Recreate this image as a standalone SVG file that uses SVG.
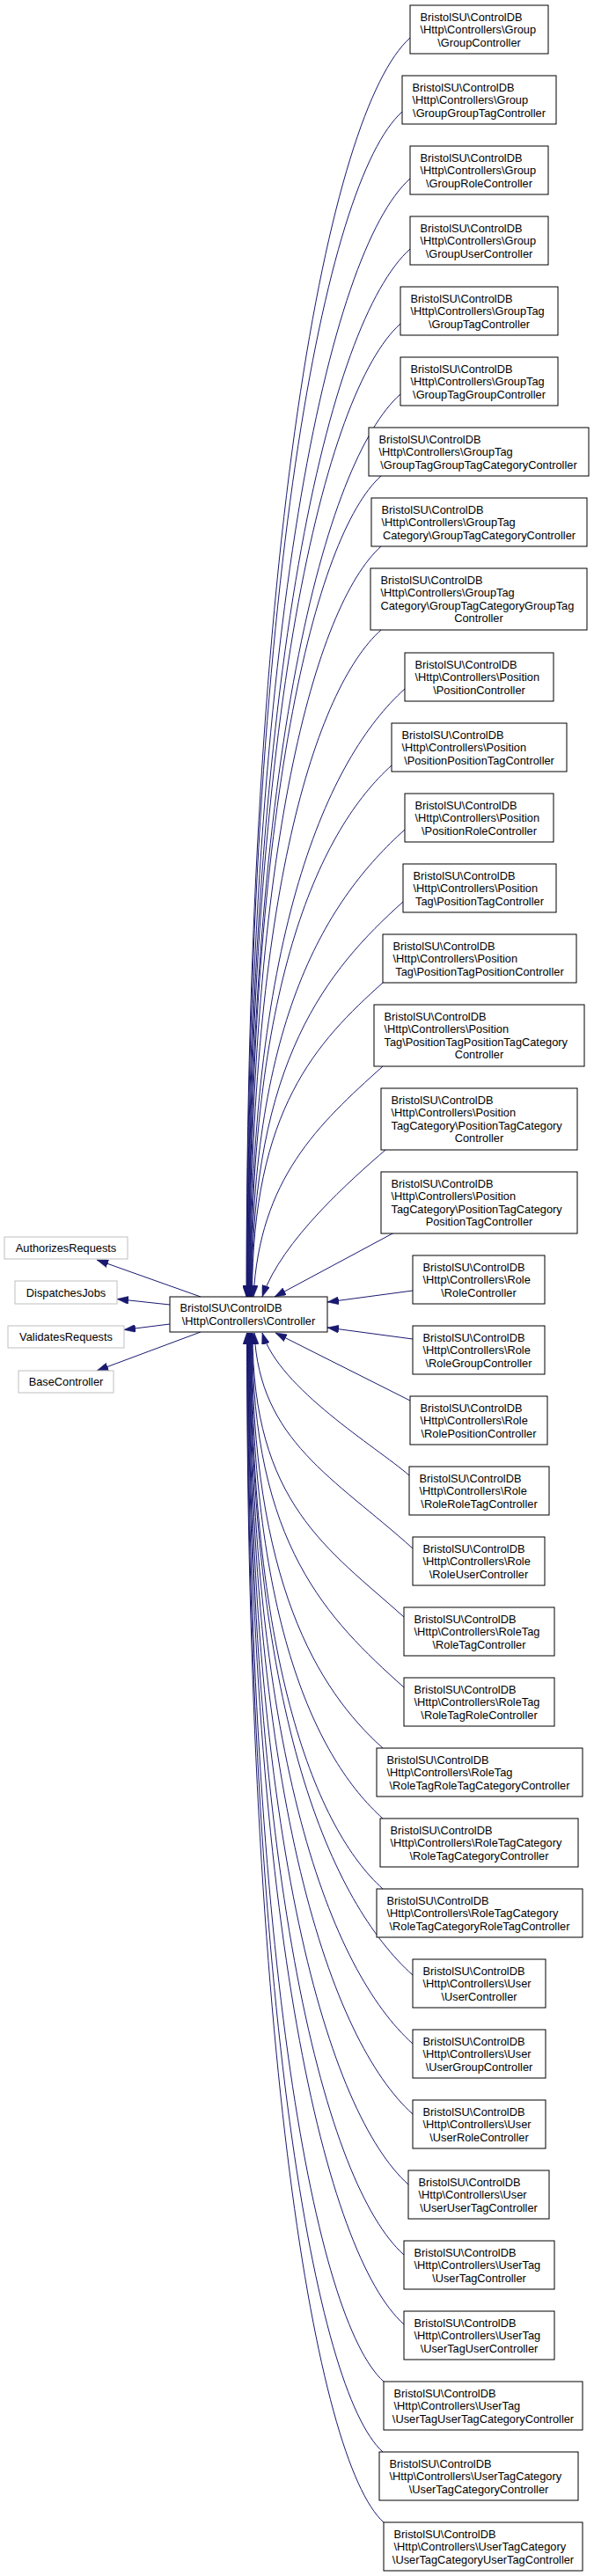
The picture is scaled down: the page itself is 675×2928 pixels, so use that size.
<svg xmlns="http://www.w3.org/2000/svg" width="675" height="2928" viewBox="0 0 675 2928">
<style>
.n rect{fill:#fff;stroke:#000;stroke-width:1}
.g rect{fill:#fff;stroke:#bfbfbf;stroke-width:1}
text{font-family:"Liberation Sans",Arial,sans-serif;font-size:12.8px;fill:#000}
.c{text-anchor:middle}
.e path{fill:none;stroke:#191970;stroke-width:1;marker-end:url(#arr)}
</style>
<defs>
<marker id="arr" markerUnits="userSpaceOnUse" viewBox="0 0 13 9" markerWidth="13" markerHeight="9" refX="13" refY="4.5" orient="auto">
<path d="M0,0 L13,4.5 L0,9 Z" fill="#191970" stroke="#191970" stroke-width="0.5"/>
</marker>
</defs>
<rect width="675" height="2928" fill="#fff"/>
<g id="edges" class="e">
<path d="M228,1474 L110,1432"/>
<path d="M193,1483 L133,1476.5"/>
<path d="M193,1505 L141,1511.5"/>
<path d="M228,1514 L110,1558"/>
<path d="M466,43 C373,126.7 280,615.4 280,1474"/>
<path d="M457,127 C368.8,206.4 280.5,665.8 280.5,1474"/>
<path d="M466,203 C373.5,286.3 281,711.4 281,1474"/>
<path d="M466,283 C373.8,366 281.5,759.4 281.5,1474"/>
<path d="M455,368 C368.5,445.9 282,810.4 282,1474"/>
<path d="M455,448 C368.8,525.6 282.5,858.4 282.5,1474"/>
<path d="M433,541 C358,608.5 283,914.2 283,1474"/>
<path d="M433,621 C358.3,688.3 283.5,962.2 283.5,1474"/>
<path d="M433,716 C358.5,783 284,1019.2 284,1474"/>
<path d="M460,783 C372.3,862 284.5,1059.4 284.5,1474"/>
<path d="M445,870 C365,942 285,1111.6 285,1474"/>
<path d="M460,943 C372.8,1021.5 285.5,1155.4 285.5,1474"/>
<path d="M458,1025 C372,1102.4 286,1204.6 286,1474"/>
<path d="M435,1117 C360.8,1183.8 286.5,1259.8 286.5,1474"/>
<path d="M435,1212 C361.5,1278 295,1340 288,1474"/>
<path d="M438,1307 C400,1340 320,1410 298,1474"/>
<path d="M448,1401 L312,1474"/>
<path d="M469,1467 L372,1480"/>
<path d="M469,1522 L372,1509"/>
<path d="M466,1592 L313,1515"/>
<path d="M465,1677 C427,1644 318,1579 298,1515"/>
<path d="M469,1760 C379.5,1679.5 295,1637.5 289,1515"/>
<path d="M459,1838 C373,1760.6 287,1708.8 287,1515"/>
<path d="M459,1918 C372.8,1840.4 286.5,1756.8 286.5,1515"/>
<path d="M435,1987 C360.5,1920 286,1798.2 286,1515"/>
<path d="M435,2067 C360.3,2000 285.5,1846.2 285.5,1515"/>
<path d="M435,2147 C360,2079.5 285,1894.2 285,1515"/>
<path d="M469,2245 C376.8,2162 284.5,1953 284.5,1515"/>
<path d="M469,2323 C376.5,2239.8 284,1999.8 284,1515"/>
<path d="M469,2403 C376.3,2319.5 283.5,2047.8 283.5,1515"/>
<path d="M464,2483 C373.5,2401.6 283,2095.8 283,1515"/>
<path d="M459,2563 C370.8,2483.6 282.5,2143.8 282.5,1515"/>
<path d="M459,2642 C370.5,2562.4 282,2191.2 282,1515"/>
<path d="M436,2707 C358.8,2637.5 281.5,2230.2 281.5,1515"/>
<path d="M435,2787 C358,2717.7 281,2278.2 281,1515"/>
<path d="M436,2867 C358.3,2797 280.5,2326.2 280.5,1515"/>
</g>
<g id="controller" class="n"><rect x="193" y="1474" width="179" height="40"/><text x="204.5" y="1491.25">BristolSU\ControlDB</text><text class="c" x="282.5" y="1505.75">\Http\Controllers\Controller</text></g>
<g id="authorizes" class="g"><rect x="5" y="1406" width="140" height="25"/><text class="c" x="75" y="1423">AuthorizesRequests</text></g>
<g id="dispatches" class="g"><rect x="17" y="1456" width="116" height="26"/><text class="c" x="75" y="1473.5">DispatchesJobs</text></g>
<g id="validates" class="g"><rect x="9" y="1507" width="132" height="25"/><text class="c" x="75" y="1524">ValidatesRequests</text></g>
<g id="basecontroller" class="g"><rect x="21" y="1558" width="108" height="25"/><text class="c" x="75" y="1575">BaseController</text></g>
<g id="n1" class="n"><rect x="466" y="6" width="157" height="55"/><text x="477.5" y="23.5">BristolSU\ControlDB</text><text x="477.5" y="38">\Http\Controllers\Group</text><text class="c" x="544.5" y="52.5">\GroupController</text></g>
<g id="n2" class="n"><rect x="457" y="86" width="175" height="55"/><text x="468.5" y="103.5">BristolSU\ControlDB</text><text x="468.5" y="118">\Http\Controllers\Group</text><text class="c" x="544.5" y="132.5">\GroupGroupTagController</text></g>
<g id="n3" class="n"><rect x="466" y="166" width="157" height="55"/><text x="477.5" y="183.5">BristolSU\ControlDB</text><text x="477.5" y="198">\Http\Controllers\Group</text><text class="c" x="544.5" y="212.5">\GroupRoleController</text></g>
<g id="n4" class="n"><rect x="466" y="246" width="157" height="55"/><text x="477.5" y="263.5">BristolSU\ControlDB</text><text x="477.5" y="278">\Http\Controllers\Group</text><text class="c" x="544.5" y="292.5">\GroupUserController</text></g>
<g id="n5" class="n"><rect x="455" y="326" width="179" height="55"/><text x="466.5" y="343.5">BristolSU\ControlDB</text><text x="466.5" y="358">\Http\Controllers\GroupTag</text><text class="c" x="544.5" y="372.5">\GroupTagController</text></g>
<g id="n6" class="n"><rect x="455" y="406" width="179" height="55"/><text x="466.5" y="423.5">BristolSU\ControlDB</text><text x="466.5" y="438">\Http\Controllers\GroupTag</text><text class="c" x="544.5" y="452.5">\GroupTagGroupController</text></g>
<g id="n7" class="n"><rect x="419" y="486" width="250" height="55"/><text x="430.5" y="503.5">BristolSU\ControlDB</text><text x="430.5" y="518">\Http\Controllers\GroupTag</text><text class="c" x="544" y="532.5">\GroupTagGroupTagCategoryController</text></g>
<g id="n8" class="n"><rect x="422" y="566" width="245" height="55"/><text x="433.5" y="583.5">BristolSU\ControlDB</text><text x="433.5" y="598">\Http\Controllers\GroupTag</text><text class="c" x="544.5" y="612.5">Category\GroupTagCategoryController</text></g>
<g id="n9" class="n"><rect x="421" y="646" width="246" height="70"/><text x="432.5" y="663.75">BristolSU\ControlDB</text><text x="432.5" y="678.25">\Http\Controllers\GroupTag</text><text x="432.5" y="692.75">Category\GroupTagCategoryGroupTag</text><text class="c" x="544" y="707.25">Controller</text></g>
<g id="n10" class="n"><rect x="460" y="742" width="169" height="55"/><text x="471.5" y="759.5">BristolSU\ControlDB</text><text x="471.5" y="774">\Http\Controllers\Position</text><text class="c" x="544.5" y="788.5">\PositionController</text></g>
<g id="n11" class="n"><rect x="445" y="822" width="199" height="55"/><text x="456.5" y="839.5">BristolSU\ControlDB</text><text x="456.5" y="854">\Http\Controllers\Position</text><text class="c" x="544.5" y="868.5">\PositionPositionTagController</text></g>
<g id="n12" class="n"><rect x="460" y="902" width="169" height="55"/><text x="471.5" y="919.5">BristolSU\ControlDB</text><text x="471.5" y="934">\Http\Controllers\Position</text><text class="c" x="544.5" y="948.5">\PositionRoleController</text></g>
<g id="n13" class="n"><rect x="458" y="982" width="174" height="55"/><text x="469.5" y="999.5">BristolSU\ControlDB</text><text x="469.5" y="1014">\Http\Controllers\Position</text><text class="c" x="545" y="1028.5">Tag\PositionTagController</text></g>
<g id="n14" class="n"><rect x="435" y="1062" width="220" height="55"/><text x="446.5" y="1079.5">BristolSU\ControlDB</text><text x="446.5" y="1094">\Http\Controllers\Position</text><text class="c" x="545" y="1108.5">Tag\PositionTagPositionController</text></g>
<g id="n15" class="n"><rect x="425" y="1142" width="239" height="70"/><text x="436.5" y="1159.75">BristolSU\ControlDB</text><text x="436.5" y="1174.25">\Http\Controllers\Position</text><text x="436.5" y="1188.75">Tag\PositionTagPositionTagCategory</text><text class="c" x="544.5" y="1203.25">Controller</text></g>
<g id="n16" class="n"><rect x="433" y="1237" width="223" height="70"/><text x="444.5" y="1254.75">BristolSU\ControlDB</text><text x="444.5" y="1269.25">\Http\Controllers\Position</text><text x="444.5" y="1283.75">TagCategory\PositionTagCategory</text><text class="c" x="544.5" y="1298.25">Controller</text></g>
<g id="n17" class="n"><rect x="433" y="1332" width="223" height="70"/><text x="444.5" y="1349.75">BristolSU\ControlDB</text><text x="444.5" y="1364.25">\Http\Controllers\Position</text><text x="444.5" y="1378.75">TagCategory\PositionTagCategory</text><text class="c" x="544.5" y="1393.25">PositionTagController</text></g>
<g id="n18" class="n"><rect x="469" y="1427" width="150" height="55"/><text x="480.5" y="1444.5">BristolSU\ControlDB</text><text x="480.5" y="1459">\Http\Controllers\Role</text><text class="c" x="544" y="1473.5">\RoleController</text></g>
<g id="n19" class="n"><rect x="469" y="1507" width="150" height="55"/><text x="480.5" y="1524.5">BristolSU\ControlDB</text><text x="480.5" y="1539">\Http\Controllers\Role</text><text class="c" x="544" y="1553.5">\RoleGroupController</text></g>
<g id="n20" class="n"><rect x="466" y="1587" width="156" height="55"/><text x="477.5" y="1604.5">BristolSU\ControlDB</text><text x="477.5" y="1619">\Http\Controllers\Role</text><text class="c" x="544" y="1633.5">\RolePositionController</text></g>
<g id="n21" class="n"><rect x="465" y="1667" width="159" height="55"/><text x="476.5" y="1684.5">BristolSU\ControlDB</text><text x="476.5" y="1699">\Http\Controllers\Role</text><text class="c" x="544.5" y="1713.5">\RoleRoleTagController</text></g>
<g id="n22" class="n"><rect x="469" y="1747" width="150" height="55"/><text x="480.5" y="1764.5">BristolSU\ControlDB</text><text x="480.5" y="1779">\Http\Controllers\Role</text><text class="c" x="544" y="1793.5">\RoleUserController</text></g>
<g id="n23" class="n"><rect x="459" y="1827" width="171" height="55"/><text x="470.5" y="1844.5">BristolSU\ControlDB</text><text x="470.5" y="1859">\Http\Controllers\RoleTag</text><text class="c" x="544.5" y="1873.5">\RoleTagController</text></g>
<g id="n24" class="n"><rect x="459" y="1907" width="171" height="55"/><text x="470.5" y="1924.5">BristolSU\ControlDB</text><text x="470.5" y="1939">\Http\Controllers\RoleTag</text><text class="c" x="544.5" y="1953.5">\RoleTagRoleController</text></g>
<g id="n25" class="n"><rect x="428" y="1987" width="234" height="55"/><text x="439.5" y="2004.5">BristolSU\ControlDB</text><text x="439.5" y="2019">\Http\Controllers\RoleTag</text><text class="c" x="545" y="2033.5">\RoleTagRoleTagCategoryController</text></g>
<g id="n26" class="n"><rect x="432" y="2067" width="225" height="55"/><text x="443.5" y="2084.5">BristolSU\ControlDB</text><text x="443.5" y="2099">\Http\Controllers\RoleTagCategory</text><text class="c" x="544.5" y="2113.5">\RoleTagCategoryController</text></g>
<g id="n27" class="n"><rect x="428" y="2147" width="234" height="55"/><text x="439.5" y="2164.5">BristolSU\ControlDB</text><text x="439.5" y="2179">\Http\Controllers\RoleTagCategory</text><text class="c" x="545" y="2193.5">\RoleTagCategoryRoleTagController</text></g>
<g id="n28" class="n"><rect x="469" y="2227" width="151" height="55"/><text x="480.5" y="2244.5">BristolSU\ControlDB</text><text x="480.5" y="2259">\Http\Controllers\User</text><text class="c" x="544.5" y="2273.5">\UserController</text></g>
<g id="n29" class="n"><rect x="469" y="2307" width="151" height="55"/><text x="480.5" y="2324.5">BristolSU\ControlDB</text><text x="480.5" y="2339">\Http\Controllers\User</text><text class="c" x="544.5" y="2353.5">\UserGroupController</text></g>
<g id="n30" class="n"><rect x="469" y="2387" width="151" height="55"/><text x="480.5" y="2404.5">BristolSU\ControlDB</text><text x="480.5" y="2419">\Http\Controllers\User</text><text class="c" x="544.5" y="2433.5">\UserRoleController</text></g>
<g id="n31" class="n"><rect x="464" y="2467" width="160" height="55"/><text x="475.5" y="2484.5">BristolSU\ControlDB</text><text x="475.5" y="2499">\Http\Controllers\User</text><text class="c" x="544" y="2513.5">\UserUserTagController</text></g>
<g id="n32" class="n"><rect x="459" y="2547" width="171" height="55"/><text x="470.5" y="2564.5">BristolSU\ControlDB</text><text x="470.5" y="2579">\Http\Controllers\UserTag</text><text class="c" x="544.5" y="2593.5">\UserTagController</text></g>
<g id="n33" class="n"><rect x="459" y="2627" width="171" height="55"/><text x="470.5" y="2644.5">BristolSU\ControlDB</text><text x="470.5" y="2659">\Http\Controllers\UserTag</text><text class="c" x="544.5" y="2673.5">\UserTagUserController</text></g>
<g id="n34" class="n"><rect x="436" y="2707" width="226" height="55"/><text x="447.5" y="2724.5">BristolSU\ControlDB</text><text x="447.5" y="2739">\Http\Controllers\UserTag</text><text class="c" x="549" y="2753.5">\UserTagUserTagCategoryController</text></g>
<g id="n35" class="n"><rect x="431" y="2787" width="226" height="55"/><text x="442.5" y="2804.5">BristolSU\ControlDB</text><text x="442.5" y="2819">\Http\Controllers\UserTagCategory</text><text class="c" x="544" y="2833.5">\UserTagCategoryController</text></g>
<g id="n36" class="n"><rect x="436" y="2867" width="226" height="55"/><text x="447.5" y="2884.5">BristolSU\ControlDB</text><text x="447.5" y="2899">\Http\Controllers\UserTagCategory</text><text class="c" x="549" y="2913.5">\UserTagCategoryUserTagController</text></g>
</svg>
